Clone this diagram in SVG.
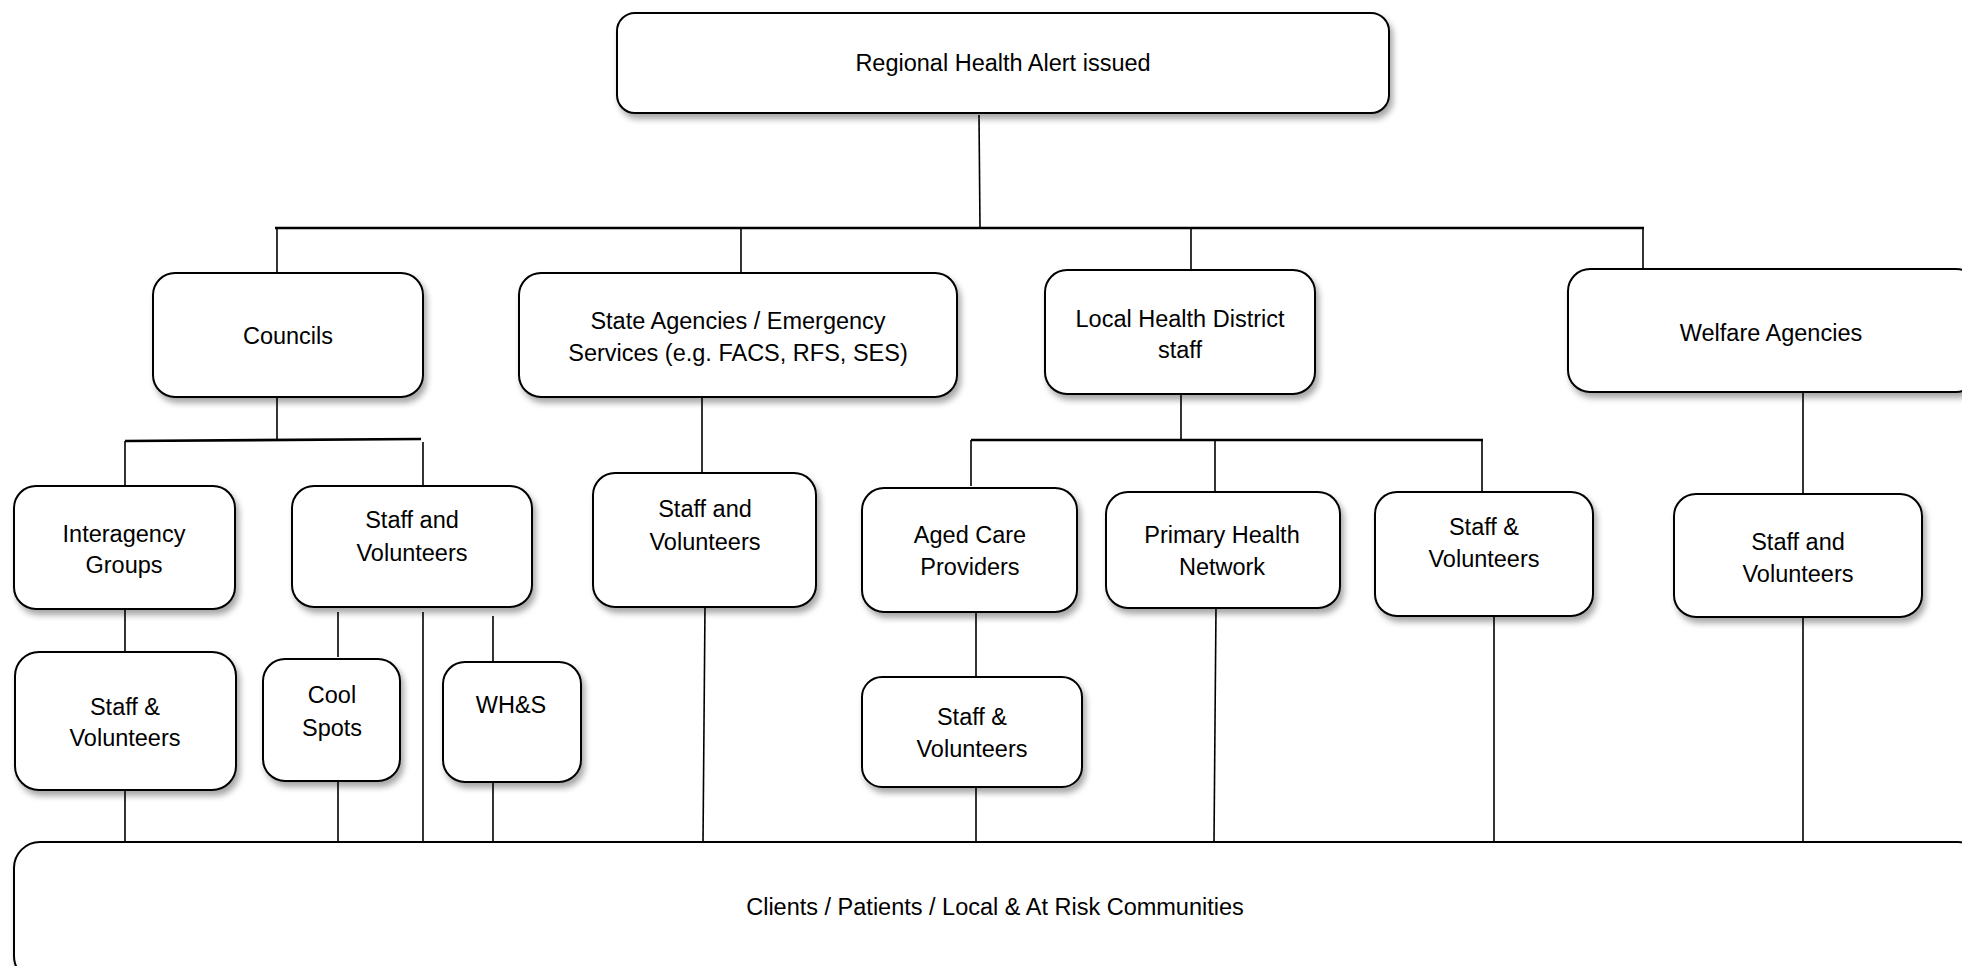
<svg xmlns="http://www.w3.org/2000/svg" width="1962" height="966" viewBox="0 0 1962 966">
<defs>
<filter id="sh" x="-10%" y="-10%" width="120%" height="130%">
<feDropShadow dx="3" dy="5" stdDeviation="3" flood-color="#000" flood-opacity="0.35"/>
</filter>
<style>
.box{fill:#fff;stroke:#000;stroke-width:2;filter:url(#sh)}
.t{font-family:"Liberation Sans",Arial,sans-serif;font-size:23.5px;fill:#000;text-anchor:middle}
.ln{stroke:#000;stroke-width:1.6;fill:none}
.bus{stroke:#000;stroke-width:2.6;fill:none}
</style>
</defs>
<rect width="1962" height="966" fill="#fff"/>

<g id="connectors">
<line class="ln" x1="979" y1="115" x2="980" y2="228"/>
<line class="bus" x1="275" y1="228" x2="1644" y2="228"/>
<line class="ln" x1="277" y1="228" x2="277" y2="273"/>
<line class="ln" x1="741" y1="228" x2="741" y2="273"/>
<line class="ln" x1="1191" y1="228" x2="1191" y2="270"/>
<line class="ln" x1="1643" y1="228" x2="1643" y2="269"/>
<line class="ln" x1="277" y1="397" x2="277" y2="440"/>
<line class="bus" x1="125" y1="441" x2="421" y2="439"/>
<line class="ln" x1="125" y1="441" x2="125" y2="486"/>
<line class="ln" x1="423" y1="442" x2="423" y2="486"/>
<line class="ln" x1="125" y1="609" x2="125" y2="652"/>
<line class="ln" x1="338" y1="612" x2="338" y2="657"/>
<line class="ln" x1="423" y1="612" x2="423" y2="842"/>
<line class="ln" x1="493" y1="616" x2="493" y2="661"/>
<line class="ln" x1="125" y1="790" x2="125" y2="842"/>
<line class="ln" x1="338" y1="782" x2="338" y2="842"/>
<line class="ln" x1="493" y1="783" x2="493" y2="842"/>
<line class="ln" x1="702" y1="397" x2="702" y2="473"/>
<line class="ln" x1="705" y1="607" x2="703" y2="842"/>
<line class="ln" x1="1181" y1="394" x2="1181" y2="440"/>
<line class="bus" x1="971" y1="440" x2="1483" y2="440"/>
<line class="ln" x1="971" y1="440" x2="971" y2="486"/>
<line class="ln" x1="1215" y1="440" x2="1215" y2="492"/>
<line class="ln" x1="1482" y1="440" x2="1482" y2="492"/>
<line class="ln" x1="976" y1="612" x2="976" y2="677"/>
<line class="ln" x1="976" y1="787" x2="976" y2="842"/>
<line class="ln" x1="1216" y1="608" x2="1214" y2="842"/>
<line class="ln" x1="1494" y1="616" x2="1494" y2="842"/>
<line class="ln" x1="1803" y1="392" x2="1803" y2="494"/>
<line class="ln" x1="1803" y1="617" x2="1803" y2="845"/>
</g>

<g id="n-alert"><rect class="box" x="617" y="13" width="772" height="100" rx="18"/><text class="t" x="1003" y="71">Regional Health Alert issued</text></g>

<g id="n-councils"><rect class="box" x="153" y="273" width="270" height="124" rx="22"/><text class="t" x="288" y="344">Councils</text></g>
<g id="n-state"><rect class="box" x="519" y="273" width="438" height="124" rx="22"/><text class="t" x="738" y="329">State Agencies / Emergency</text><text class="t" x="738" y="361">Services (e.g. FACS, RFS, SES)</text></g>
<g id="n-lhd"><rect class="box" x="1045" y="270" width="270" height="124" rx="22"/><text class="t" x="1180" y="327">Local Health District</text><text class="t" x="1180" y="358">staff</text></g>
<g id="n-welfare"><rect class="box" x="1568" y="269" width="410" height="123" rx="22"/><text class="t" x="1771" y="341">Welfare Agencies</text></g>

<g id="n-interagency"><rect class="box" x="14" y="486" width="221" height="123" rx="22"/><text class="t" x="124" y="542">Interagency</text><text class="t" x="124" y="573">Groups</text></g>
<g id="n-council-staff"><rect class="box" x="292" y="486" width="240" height="121" rx="22"/><text class="t" x="412" y="528">Staff and</text><text class="t" x="412" y="561">Volunteers</text></g>
<g id="n-state-staff"><rect class="box" x="593" y="473" width="223" height="134" rx="22"/><text class="t" x="705" y="517">Staff and</text><text class="t" x="705" y="550">Volunteers</text></g>
<g id="n-aged"><rect class="box" x="862" y="488" width="215" height="124" rx="22"/><text class="t" x="970" y="543">Aged Care</text><text class="t" x="970" y="575">Providers</text></g>
<g id="n-phn"><rect class="box" x="1106" y="492" width="234" height="116" rx="22"/><text class="t" x="1222" y="543">Primary Health</text><text class="t" x="1222" y="575">Network</text></g>
<g id="n-lhd-staff"><rect class="box" x="1375" y="492" width="218" height="124" rx="22"/><text class="t" x="1484" y="535">Staff &amp;</text><text class="t" x="1484" y="567">Volunteers</text></g>
<g id="n-welfare-staff"><rect class="box" x="1674" y="494" width="248" height="123" rx="22"/><text class="t" x="1798" y="550">Staff and</text><text class="t" x="1798" y="582">Volunteers</text></g>

<g id="n-inter-staff"><rect class="box" x="15" y="652" width="221" height="138" rx="24"/><text class="t" x="125" y="715">Staff &amp;</text><text class="t" x="125" y="746">Volunteers</text></g>
<g id="n-cool"><rect class="box" x="263" y="659" width="137" height="122" rx="22"/><text class="t" x="332" y="703">Cool</text><text class="t" x="332" y="736">Spots</text></g>
<g id="n-whs"><rect class="box" x="443" y="662" width="138" height="120" rx="22"/><text class="t" x="511" y="713">WH&amp;S</text></g>
<g id="n-aged-staff"><rect class="box" x="862" y="677" width="220" height="110" rx="20"/><text class="t" x="972" y="725">Staff &amp;</text><text class="t" x="972" y="757">Volunteers</text></g>

<g id="n-clients"><rect class="box" x="14" y="842" width="1970" height="140" rx="26"/><text class="t" x="995" y="915">Clients / Patients / Local &amp; At Risk Communities</text></g>
</svg>
